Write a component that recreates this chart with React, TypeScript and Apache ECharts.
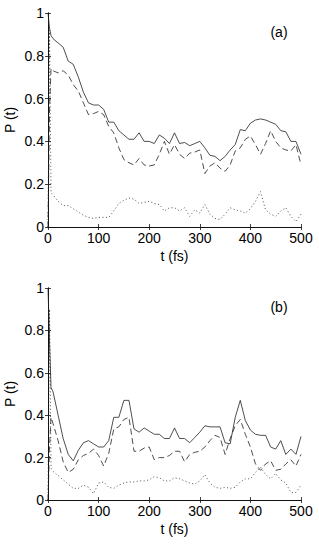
import React, { useEffect, useRef } from "react";
import * as echarts from "echarts";

// time samples (fs), shared by both panels
const T = [0, 3, 6, 10, 20, 30, 40, 50, 60, 70, 80, 90, 100, 110, 120, 130, 140, 150, 160, 170, 180, 190, 200, 210, 220, 230, 240, 250, 260, 270, 280, 290, 300, 310, 320, 330, 340, 350, 360, 370, 380, 390, 400, 410, 420, 430, 440, 450, 460, 470, 480, 490, 500];

// panel (a)
const solidA = [1.0, 0.93, 0.895, 0.88, 0.86, 0.84, 0.775, 0.76, 0.70, 0.63, 0.58, 0.57, 0.57, 0.55, 0.49, 0.49, 0.45, 0.43, 0.41, 0.41, 0.44, 0.40, 0.40, 0.39, 0.43, 0.415, 0.39, 0.44, 0.39, 0.395, 0.38, 0.39, 0.40, 0.37, 0.335, 0.33, 0.31, 0.33, 0.36, 0.385, 0.455, 0.45, 0.485, 0.50, 0.505, 0.50, 0.49, 0.48, 0.45, 0.445, 0.40, 0.40, 0.34];
const dashedA = [0, 0.55, 0.74, 0.73, 0.72, 0.73, 0.71, 0.665, 0.635, 0.58, 0.525, 0.53, 0.54, 0.525, 0.47, 0.44, 0.37, 0.315, 0.30, 0.29, 0.32, 0.29, 0.285, 0.29, 0.34, 0.40, 0.34, 0.385, 0.34, 0.32, 0.345, 0.35, 0.36, 0.25, 0.285, 0.30, 0.275, 0.26, 0.29, 0.355, 0.37, 0.41, 0.425, 0.385, 0.34, 0.39, 0.45, 0.40, 0.37, 0.36, 0.355, 0.385, 0.29];
const dottedA = [0, 0.92, 0.16, 0.15, 0.12, 0.10, 0.10, 0.085, 0.07, 0.055, 0.045, 0.04, 0.045, 0.045, 0.045, 0.075, 0.11, 0.125, 0.135, 0.13, 0.11, 0.115, 0.12, 0.11, 0.105, 0.075, 0.09, 0.09, 0.075, 0.09, 0.05, 0.08, 0.065, 0.105, 0.06, 0.04, 0.035, 0.06, 0.09, 0.08, 0.075, 0.065, 0.085, 0.12, 0.165, 0.08, 0.06, 0.05, 0.075, 0.09, 0.05, 0.025, 0.06];

// panel (b)
const solidB = [1.0, 0.75, 0.53, 0.51, 0.40, 0.29, 0.215, 0.185, 0.235, 0.27, 0.28, 0.265, 0.25, 0.25, 0.28, 0.39, 0.39, 0.47, 0.47, 0.335, 0.32, 0.34, 0.325, 0.31, 0.31, 0.29, 0.29, 0.34, 0.29, 0.29, 0.27, 0.295, 0.32, 0.35, 0.345, 0.345, 0.345, 0.27, 0.265, 0.39, 0.47, 0.375, 0.33, 0.31, 0.305, 0.305, 0.25, 0.24, 0.28, 0.215, 0.24, 0.215, 0.30];
const dashedB = [0, 0.25, 0.39, 0.36, 0.28, 0.18, 0.13, 0.145, 0.19, 0.21, 0.22, 0.24, 0.21, 0.16, 0.22, 0.335, 0.345, 0.38, 0.39, 0.23, 0.23, 0.245, 0.25, 0.19, 0.20, 0.20, 0.21, 0.23, 0.23, 0.18, 0.215, 0.225, 0.23, 0.25, 0.28, 0.305, 0.295, 0.215, 0.29, 0.35, 0.38, 0.31, 0.25, 0.17, 0.14, 0.17, 0.185, 0.14, 0.145, 0.17, 0.19, 0.16, 0.215];
const dottedB = [0, 0.9, 0.15, 0.135, 0.115, 0.095, 0.075, 0.055, 0.055, 0.07, 0.06, 0.03, 0.08, 0.085, 0.06, 0.055, 0.07, 0.08, 0.085, 0.085, 0.09, 0.09, 0.095, 0.11, 0.105, 0.09, 0.09, 0.105, 0.10, 0.09, 0.08, 0.075, 0.09, 0.12, 0.08, 0.06, 0.055, 0.06, 0.055, 0.06, 0.085, 0.10, 0.10, 0.13, 0.155, 0.12, 0.10, 0.125, 0.095, 0.08, 0.035, 0.035, 0.07];

const X_MIN = 0, X_MAX = 500, X_STEP = 100;
const Y_MIN = 0, Y_MAX = 1, Y_STEP = 0.2;
const PANEL_LABELS = ["(a)", "(b)"];
const X_NAME = "t (fs)";
const Y_NAME = "P (t)";

const FONT = "'Liberation Sans', Arial, Helvetica, sans-serif";
const FS = 14;
const INK = "#111";
const LINE = "#222";

export default function App() {
  const ref = useRef<HTMLDivElement>(null);
  useEffect(() => {
    if (!ref.current) return;
    const chart = echarts.init(ref.current, null, { renderer: "svg" });

    const grids = [
      { left: 48, top: 13, width: 253, height: 214 },
      { left: 48, top: 288, width: 253, height: 212 },
    ];

    const lineAx = { show: true, lineStyle: { color: INK, width: 1 } };
    const tick = { show: true, inside: true, length: 3, lineStyle: { color: INK, width: 0.8 } };
    const txt = { color: "#000", fontSize: FS, fontFamily: FONT, fontWeight: "normal" as const };

    const xAxes: any[] = [];
    const yAxes: any[] = [];
    grids.forEach((_, gi) => {
      xAxes.push({
        type: "value", gridIndex: gi, min: X_MIN, max: X_MAX, interval: X_STEP, position: "bottom",
        axisLine: lineAx, axisTick: tick, splitLine: { show: false },
        axisLabel: { ...txt, margin: 4 },
        name: X_NAME, nameLocation: "middle", nameGap: 22,
        nameTextStyle: { ...txt, verticalAlign: "top" },
      });
      xAxes.push({
        type: "value", gridIndex: gi, min: X_MIN, max: X_MAX, interval: X_STEP, position: "top",
        axisLine: lineAx, axisTick: tick, splitLine: { show: false }, axisLabel: { show: false },
      });
      yAxes.push({
        type: "value", gridIndex: gi, min: Y_MIN, max: Y_MAX, interval: Y_STEP, position: "left",
        axisLine: lineAx, axisTick: tick, splitLine: { show: false },
        axisLabel: { ...txt, margin: 4,
          formatter: (v: number) => (v === 0 ? "0" : v === 1 ? "1" : v.toFixed(1)) },
      });
      yAxes.push({
        type: "value", gridIndex: gi, min: Y_MIN, max: Y_MAX, interval: Y_STEP, position: "right",
        axisLine: lineAx, axisTick: tick, splitLine: { show: false }, axisLabel: { show: false },
      });
    });

    const mk = (vals: number[], gi: number, type: any) => ({
      type: "line",
      xAxisIndex: gi * 2,
      yAxisIndex: gi * 2,
      data: T.map((t, i) => [t, vals[i]]),
      showSymbol: false,
      symbol: "none",
      lineStyle: { color: LINE, width: 0.8, type },
      silent: true,
    });

    const dash = [6, 3.5];
    const dot = [1, 2.5];

    const graphics: any[] = [];
    grids.forEach((g, gi) => {
      graphics.push({
        type: "text",
        x: 279, y: g.top + 19,
        style: { text: PANEL_LABELS[gi], fontSize: FS, fontFamily: FONT, fill: "#000", textAlign: "center", textVerticalAlign: "middle" },
      });
      graphics.push({
        type: "text",
        x: 10, y: g.top + g.height / 2,
        rotation: Math.PI / 2,
        style: { text: Y_NAME, fontSize: FS, fontFamily: FONT, fill: "#000", textAlign: "center", textVerticalAlign: "middle" },
      });
    });

    chart.setOption({
      animation: false,
      backgroundColor: "#fff",
      grid: grids,
      xAxis: xAxes,
      yAxis: yAxes,
      series: [
        mk(solidA, 0, "solid"),
        mk(dashedA, 0, dash),
        mk(dottedA, 0, dot),
        mk(solidB, 1, "solid"),
        mk(dashedB, 1, dash),
        mk(dottedB, 1, dot),
      ],
      graphic: graphics,
    });
    return () => chart.dispose();
  }, []);
  return <div ref={ref} style={{ position: "absolute", left: 0, top: 0, width: 319, height: 545 }} />;
}
